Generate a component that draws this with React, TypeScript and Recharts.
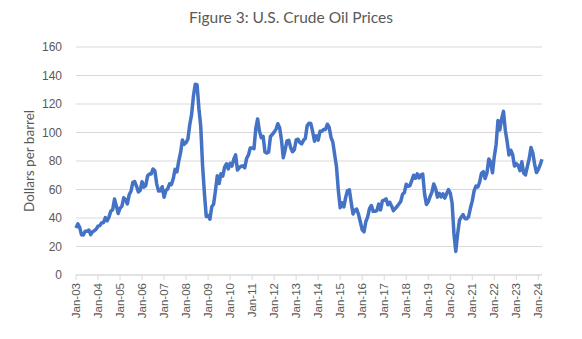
import React from 'react';
import { LineChart, Line, XAxis, YAxis, CartesianGrid } from 'recharts';

const MONTHS = ['Jan', 'Feb', 'Mar', 'Apr', 'May', 'Jun', 'Jul', 'Aug', 'Sep', 'Oct', 'Nov', 'Dec'];

const p2003 = [32.95, 35.83, 33.51, 28.17, 28.11, 30.66, 30.76, 31.57, 28.31, 30.34, 31.11, 32.13];
const p2004 = [34.31, 34.69, 36.74, 36.75, 40.28, 38.03, 40.78, 44.9, 45.94, 53.28, 48.47, 43.15];
const p2005 = [46.84, 48.15, 54.19, 52.98, 49.83, 56.35, 59.0, 64.99, 65.59, 62.26, 58.32, 59.41];
const p2006 = [65.49, 61.63, 62.69, 69.44, 70.84, 70.95, 74.41, 73.04, 63.8, 58.89, 59.08, 61.96];
const p2007 = [54.51, 59.28, 60.44, 63.98, 63.46, 67.49, 74.12, 72.36, 79.92, 85.8, 94.77, 91.69];
const p2008 = [92.97, 95.39, 105.45, 112.58, 125.4, 133.88, 133.37, 116.67, 104.11, 76.61, 57.31, 41.12];
const p2009 = [41.71, 39.09, 47.94, 49.65, 59.03, 69.64, 64.15, 71.05, 69.41, 75.72, 77.99, 74.47];
const p2010 = [78.33, 76.39, 81.2, 84.29, 73.74, 75.34, 76.32, 76.6, 75.24, 81.89, 84.25, 89.15];
const p2011 = [89.17, 88.58, 102.86, 109.53, 100.9, 96.26, 97.3, 86.33, 85.52, 86.32, 97.16, 98.56];
const p2012 = [100.27, 102.2, 106.16, 103.32, 94.66, 82.3, 87.9, 94.13, 94.51, 89.49, 86.53, 87.86];
const p2013 = [94.76, 95.31, 92.94, 92.02, 94.51, 95.77, 104.67, 106.57, 106.29, 100.54, 93.86, 97.63];
const p2014 = [94.62, 100.82, 100.8, 102.07, 102.18, 105.79, 103.59, 96.54, 93.21, 84.4, 75.79, 59.29];
const p2015 = [47.22, 50.58, 47.82, 54.45, 59.27, 59.82, 50.9, 42.87, 45.48, 46.22, 42.44, 37.19];
const p2016 = [31.68, 30.32, 37.55, 40.75, 46.71, 48.76, 44.65, 44.72, 45.18, 49.78, 45.66, 51.97];
const p2017 = [52.5, 53.47, 49.33, 51.06, 48.48, 45.18, 46.63, 48.04, 49.82, 51.58, 56.64, 57.88];
const p2018 = [63.7, 62.23, 62.73, 66.25, 69.98, 67.87, 70.98, 68.06, 70.23, 70.75, 56.96, 49.52];
const p2019 = [51.38, 54.95, 58.15, 63.86, 60.83, 54.66, 57.35, 54.81, 56.95, 53.96, 57.03, 59.88];
const p2020 = [57.52, 50.54, 29.21, 16.55, 28.56, 38.31, 40.71, 42.34, 39.63, 39.4, 40.94, 47.02];
const p2021 = [52.0, 59.04, 62.33, 61.72, 65.17, 71.38, 72.49, 67.73, 71.65, 81.48, 79.15, 71.71];
const p2022 = [83.22, 91.64, 108.5, 101.78, 109.55, 114.84, 101.62, 93.67, 84.26, 87.55, 84.37, 76.44];
const p2023 = [78.12, 76.83, 73.28, 79.45, 71.58, 70.25, 76.07, 81.39, 89.43, 85.64, 77.69, 71.9];
const p2024 = [74.15, 77.25, 81.28];

const YEARS = [2003, 2004, 2005, 2006, 2007, 2008, 2009, 2010, 2011, 2012, 2013, 2014, 2015, 2016, 2017, 2018, 2019, 2020, 2021, 2022, 2023, 2024];
const SERIES = [p2003, p2004, p2005, p2006, p2007, p2008, p2009, p2010, p2011, p2012, p2013, p2014, p2015, p2016, p2017, p2018, p2019, p2020, p2021, p2022, p2023, p2024];

const X_TICKS = ['Jan-03', 'Jan-04', 'Jan-05', 'Jan-06', 'Jan-07', 'Jan-08', 'Jan-09', 'Jan-10', 'Jan-11', 'Jan-12', 'Jan-13', 'Jan-14', 'Jan-15', 'Jan-16', 'Jan-17', 'Jan-18', 'Jan-19', 'Jan-20', 'Jan-21', 'Jan-22', 'Jan-23', 'Jan-24'];
const Y_TICKS = [0, 20, 40, 60, 80, 100, 120, 140, 160];

const TITLE = 'Figure 3: U.S. Crude Oil Prices';
const Y_LABEL = 'Dollars per barrel';

const data: { month: string; price: number }[] = [];
YEARS.forEach((y, i) => {
  SERIES[i].forEach((v, m) => {
    data.push({ month: `${MONTHS[m]}-${String(y).slice(2)}`, price: v });
  });
});

const FONT = 'Lato, "Open Sans", sans-serif';
const TICK_FONT = '"Liberation Sans", Arial, sans-serif';
const GREY = '#595959';

const XTick = (props: any) => {
  const { x, y, payload } = props;
  return (
    <text
      x={x}
      y={y}
      transform={`rotate(-90 ${x} ${y})`}
      textAnchor="end"
      dy="0.35em"
      fill={GREY}
      fontSize={11.5}
      fontFamily={TICK_FONT}
    >
      {payload.value}
    </text>
  );
};

export default function App() {
  return (
    <div style={{ position: 'absolute', left: 0, top: 0, width: 582, height: 339, background: '#fff' }}>
      <div
        style={{
          position: 'absolute',
          left: 0,
          top: 8,
          width: 582,
          textAlign: 'center',
          fontFamily: FONT,
          fontSize: 15.5,
          color: GREY,
        }}
      >
        {TITLE}
      </div>
      <div
        style={{
          position: 'absolute',
          left: 29,
          top: 161,
          transform: 'translate(-50%, -50%) rotate(-90deg)',
          whiteSpace: 'nowrap',
          fontFamily: FONT,
          fontSize: 13.5,
          color: GREY,
        }}
      >
        {Y_LABEL}
      </div>
      <LineChart
        width={582}
        height={339}
        data={data}
        margin={{ top: 47, right: 40, bottom: 0, left: 0 }}
      >
        <CartesianGrid vertical={false} stroke="#d9d9d9" strokeWidth={1} />
        <XAxis
          dataKey="month"
          ticks={X_TICKS}
          interval={0}
          tick={<XTick />}
          tickSize={5}
          tickMargin={3}
          tickLine={{ stroke: '#d9d9d9' }}
          axisLine={{ stroke: '#d9d9d9' }}
          height={64}
        />
        <YAxis
          domain={[0, 160]}
          ticks={Y_TICKS}
          width={76}
          axisLine={false}
          tickLine={false}
          tickSize={0}
          tickMargin={14}
          tick={{ fill: GREY, fontSize: 12, fontFamily: TICK_FONT }}
        />
        <Line
          type="linear"
          dataKey="price"
          stroke="#4472c4"
          strokeWidth={3.5}
          strokeLinejoin="round"
          dot={false}
          isAnimationActive={false}
        />
      </LineChart>
    </div>
  );
}
